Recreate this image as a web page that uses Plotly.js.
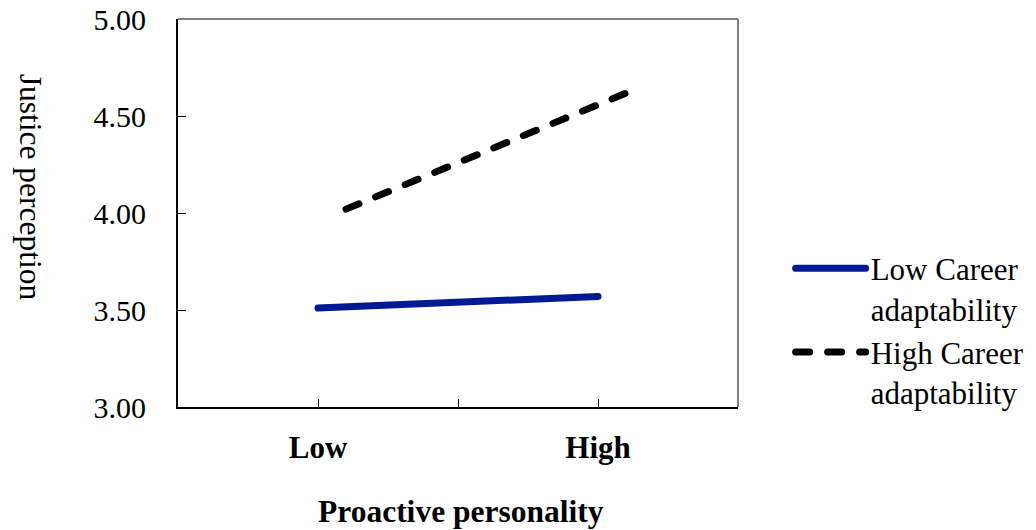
<!DOCTYPE html>
<html>
<head>
<meta charset="utf-8">
<script src="https://cdn.plot.ly/plotly-3.0.1.min.js"></script>
<style>
html,body{margin:0;padding:0;background:#fff;}
#chart{width:1036px;height:530px;}
.scatterlayer .js-line, .legendlines path{stroke-linecap:round;}
</style>
</head>
<body>
<div id="chart"></div>
<script>
// Data
const seriesNames = ["Low Career<br>adaptability", "High Career<br>adaptability"];
const lowCareerX = [0, 1];
const lowCareerY = [3.51, 3.57];
const highCareerX = [0.1, 1.12];
const highCareerY = [4.02, 4.63];
const xTickVals = [0, 0.5, 1];
const xTickText = ["Low", "", "High"];
const yTickVals = [3.0, 3.5, 4.0, 4.5, 5.0];
const yTickText = ["3.00", "3.50", "4.00", "4.50", "5.00"];
const xTitle = "Proactive personality";
const yTitle = "Justice perception";

const serif = "Liberation Serif";

const traces = [
  {x: lowCareerX, y: lowCareerY, name: seriesNames[0], mode: "lines",
   line: {color: "#001A93", width: 7}},
  {x: highCareerX, y: highCareerY, name: seriesNames[1], mode: "lines",
   line: {color: "#000000", width: 7, dash: "14px,18px"}}
];

const layout = {
  width: 1036, height: 530,
  margin: {l: 178, r: 298, t: 19, b: 123, autoexpand: false},
  paper_bgcolor: "#fff", plot_bgcolor: "#fff",
  font: {family: serif, color: "#000", size: 30},
  showlegend: true,
  legend: {x: 1.094, y: 0.426, xanchor: "left", yanchor: "top", valign: "top",
           itemwidth: 70, font: {family: serif, size: 31, color: "#000"},
           tracegroupgap: 0, bgcolor: "rgba(0,0,0,0)"},
  xaxis: {range: [-0.5, 1.5], tickmode: "array", tickvals: xTickVals, ticktext: xTickText,
          ticks: "inside", ticklen: 8, tickwidth: 1, tickcolor: "#000",
          showline: true, linecolor: "#000", linewidth: 2, showgrid: false, zeroline: false,
          tickfont: {family: serif, size: 31, color: "#000", weight: "bold"},
          ticklabelstandoff: 12, fixedrange: true, automargin: false},
  yaxis: {range: [3, 5], tickmode: "array", tickvals: yTickVals, ticktext: yTickText,
          ticks: "inside", ticklen: 8, tickwidth: 1, tickcolor: "#000",
          showline: true, linecolor: "#000", linewidth: 2, showgrid: false, zeroline: false,
          tickfont: {family: serif, size: 30, color: "#000"},
          ticklabelstandoff: 24, fixedrange: true, automargin: false},
  shapes: [
    {type: "line", xref: "paper", yref: "paper", x0: 0, x1: 1, y0: 1, y1: 1, line: {color: "#808080", width: 2}},
    {type: "line", xref: "paper", yref: "paper", x0: 1, x1: 1, y0: 0, y1: 1, line: {color: "#808080", width: 2}}
  ],
  annotations: [
    {text: yTitle, xref: "paper", yref: "paper", x: -0.262, y: 0.567, showarrow: false,
     textangle: 90, font: {family: serif, size: 31.5, color: "#000"}, xanchor: "center", yanchor: "middle"},
    {text: "<b>" + xTitle + "</b>", xref: "paper", yref: "paper", x: 0.505, y: -0.27, showarrow: false,
     font: {family: serif, size: 31.5, color: "#000"}, xanchor: "center", yanchor: "middle"}
  ]
};

Plotly.newPlot("chart", traces, layout, {displayModeBar: false, staticPlot: true});
</script>
</body>
</html>
